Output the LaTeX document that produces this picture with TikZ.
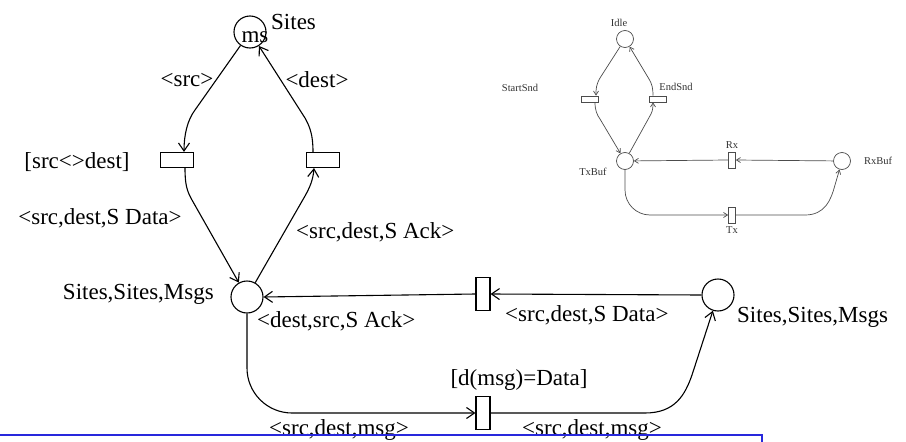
\documentclass[tikz,border=0pt]{standalone}
\usepackage{fontspec}
\setmainfont{Liberation Serif}
\usetikzlibrary{positioning,arrows.meta}

\begin{document}
\begin{tikzpicture}[x=1pt,y=-1pt,
  place/.style={draw,circle,minimum size=32pt,inner sep=0pt,line width=1.1pt},
  trans/.style={draw,rectangle,inner sep=0pt,line width=1.1pt},
  htrans/.style={trans,minimum width=33pt,minimum height=15pt},
  vtrans/.style={trans,minimum width=14pt,minimum height=33pt},
  arc/.style={line width=1.1pt,-{Straight Barb[length=8pt,width=11pt]}},
  lbl/.style={font=\fontsize{23}{27}\selectfont,inner sep=0pt},
  splace/.style={draw=black!70,circle,minimum size=17pt,inner sep=0pt,line width=0.7pt},
  strans/.style={draw=black!70,rectangle,inner sep=0pt,line width=0.7pt},
  shtrans/.style={strans,minimum width=17pt,minimum height=6pt},
  svtrans/.style={strans,minimum width=7pt,minimum height=16pt},
  sarc/.style={draw=black!70,line width=0.7pt,-{Straight Barb[length=4pt,width=5pt]}},
  slbl/.style={font=\fontsize{10.5}{12}\selectfont,text=black!80,inner sep=0pt}]
\useasboundingbox (0,0) rectangle (906,442);

% main net
\node[place] (ms) at (250,32) {};
\node[lbl] (mstok) at (255,37) {ms};
\node[lbl,anchor=west] (mscol) at (271,22) {Sites};
\node[htrans] (snd) at (177,160) {};
\node[htrans] (ack) at (323,160) {};
\node[place] (net) at (247,297) {};
\node[vtrans] (rcv) at (483,294) {};
\node[place] (buf) at (718,295) {};
\node[vtrans] (dlv) at (483,413) {};

\node[lbl] at (187,80) {<src>};
\node[lbl] at (317,80) {<dest>};
\node[lbl] at (77,162) {[src<>dest]};
\node[lbl] at (100,218) {<src,dest,S Data>};
\node[lbl,anchor=west] at (296,232) {<src,dest,S Ack>};
\node[lbl,anchor=east] at (214,294) {Sites,Sites,Msgs};
\node[lbl,anchor=west] at (257,321) {<dest,src,S Ack>};
\node[lbl,anchor=west] at (505,315) {<src,dest,S Data>};
\node[lbl,anchor=west] at (737,317) {Sites,Sites,Msgs};
\node[lbl] at (519,380) {[d(msg)=Data]};
\node[lbl] at (339,430) {<src,dest,msg>};
\node[lbl] at (592,430) {<src,dest,msg>};

\draw[arc] (ms) -- (195,110) .. controls (187.4,120) and (184,135) .. ([xshift=7pt]snd.north);
\draw[arc] ([xshift=-10pt]ack.north) .. controls (313,135) and (310,127) .. (305,118) -- (ms);
\draw[arc] ([xshift=8pt]snd.south) .. controls (185,185) and (187,191) .. (192,200) -- (net);
\draw[arc] (net) -- (305,196) .. controls (310,187) and (313,180) .. ([xshift=-9pt]ack.south);
\draw[arc] (buf.west) -- (rcv.east);
\draw[arc] (rcv.west) -- (net.east);
\draw[arc,rounded corners=45pt] (net.south) |- (dlv.west);
\draw[arc] (dlv.east) -- (645,413) .. controls (675,413) and (685,395) .. (692,375) -- (buf);

% small net
\node[splace] (idle) at (625,39) {};
\node[shtrans] (start) at (590,99) {};
\node[shtrans] (endsnd) at (658,99) {};
\node[splace] (txbuf) at (625,161) {};
\node[svtrans] (rx) at (732,160) {};
\node[splace] (rxbuf) at (842,161) {};
\node[svtrans] (tx) at (732,215) {};

\node[slbl] at (619,23) {Idle};
\node[slbl] at (520,88) {StartSnd};
\node[slbl] at (676,87) {EndSnd};
\node[slbl] at (593,172) {TxBuf};
\node[slbl] at (732,145) {Rx};
\node[slbl] at (878,161) {RxBuf};
\node[slbl] at (732,230) {Tx};

\draw[sarc] (idle) -- (600,78) .. controls (596,85) and (596,89) .. ([xshift=6pt]start.north);
\draw[sarc] ([xshift=5pt]start.south) .. controls (595,110) and (597,115) .. (600,119) -- (txbuf);
\draw[sarc] (txbuf) -- (651,114) .. controls (653,110) and (653,106) .. ([xshift=-5pt]endsnd.south);
\draw[sarc] ([xshift=-5pt]endsnd.north) .. controls (653,88) and (652,84) .. (649,79) -- (idle);
\draw[sarc] (rxbuf) -- (rx.east);
\draw[sarc] (rx.west) -- (txbuf);
\draw[sarc,rounded corners=25pt] (txbuf.south) |- (tx.west);
\draw[sarc] (tx.east) -- (805,215) .. controls (825,215) and (831,200) .. (835,185) -- (rxbuf);

% frame
\draw[draw={rgb,255:red,40;green,40;blue,220},line width=2pt] (-10,435) rectangle (762,470);
\end{tikzpicture}
\end{document}
